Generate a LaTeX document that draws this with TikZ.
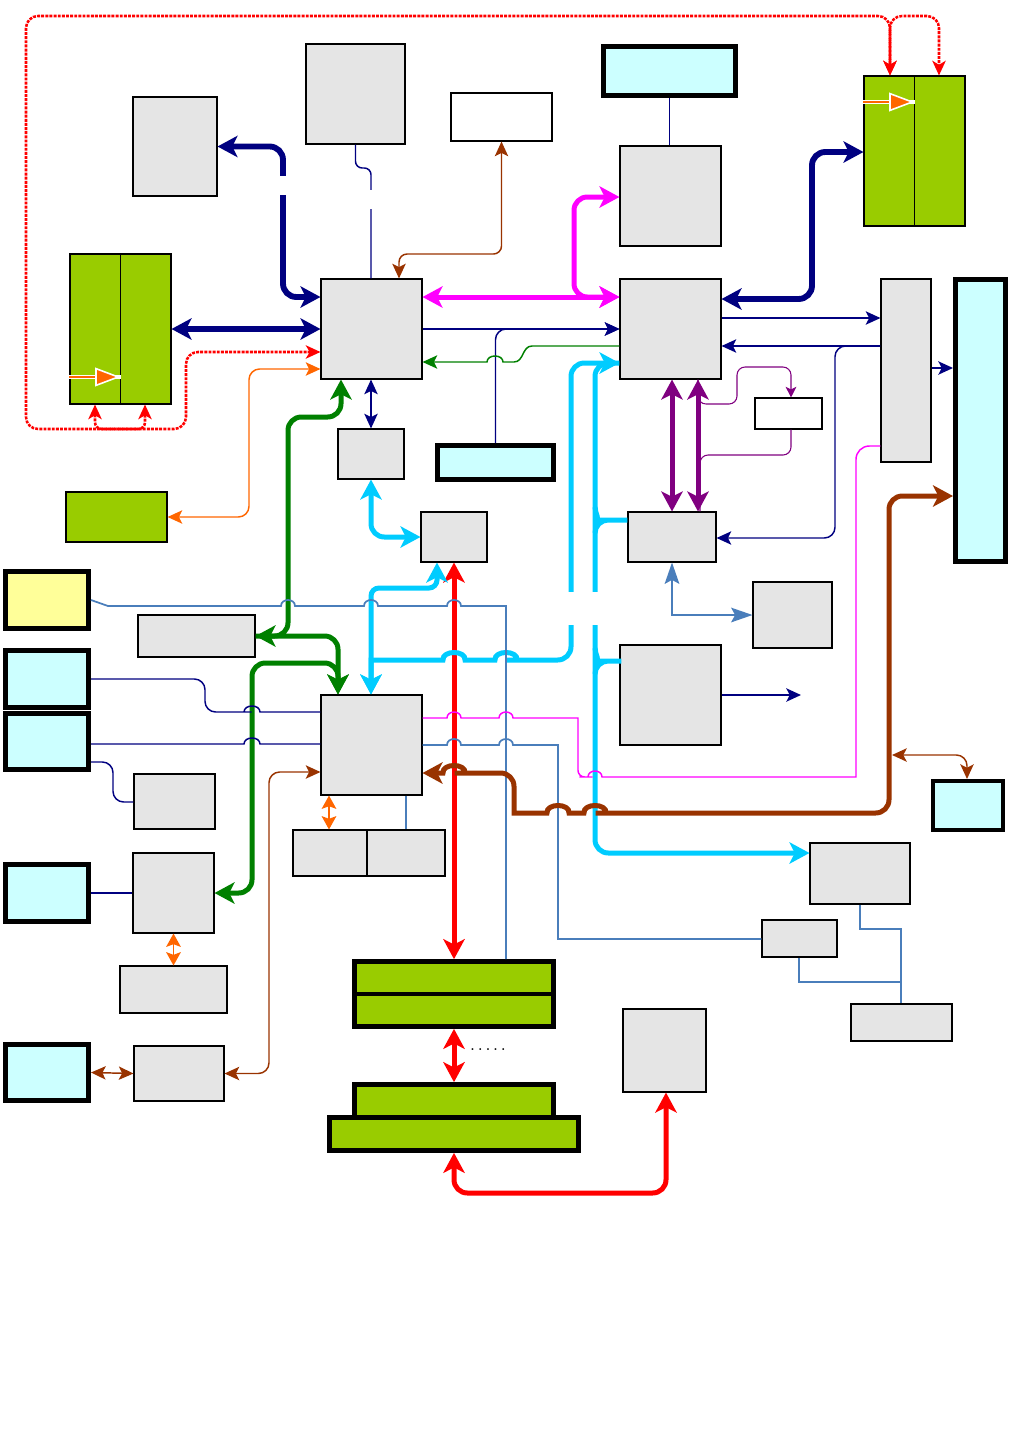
\documentclass[tikz,border=0pt]{standalone}
\usetikzlibrary{arrows.meta, fit, calc}

\definecolor{navyblue}{HTML}{000080}
\definecolor{darkgrn}{HTML}{008000}
\definecolor{magc}{HTML}{FF00FF}
\definecolor{skyc}{HTML}{00CCFF}
\definecolor{purpc}{HTML}{800080}
\definecolor{brownc}{HTML}{993300}
\definecolor{steelc}{HTML}{4A7EBB}
\definecolor{orangec}{HTML}{FF6600}
\definecolor{boxgray}{HTML}{E5E5E5}
\definecolor{portcyan}{HTML}{CCFFFF}
\definecolor{memgreen}{HTML}{99CC00}
\definecolor{paleyel}{HTML}{FFFF99}

\begin{document}
\begin{tikzpicture}[
    x=0.75pt, y=-0.75pt,
    unit/.style={rectangle, draw=black, fill=boxgray, line width=0.8pt, inner sep=0pt},
    blank/.style={unit, fill=white},
    memory/.style={unit, fill=memgreen},
    slot/.style={memory, line width=3.5pt},
    port/.style={rectangle, draw=black, fill=portcyan, line width=3.75pt, inner sep=0pt},
    bus/.style={line width=3.75pt, rounded corners=10pt, >={Stealth[length=15pt,width=16pt,inset=4pt]}},
    wire/.style={line width=1.1pt, rounded corners=8pt, >={Stealth[length=11pt,width=10pt,inset=2.5pt]}},
    dotbus/.style={red, line width=1.9pt, dash pattern=on 2.2pt off 0.9pt, rounded corners=9pt, >={Stealth[length=11pt,width=10pt,inset=3pt]}},
    steelwire/.style={steelc, line width=1.3pt, >={Stealth[length=16pt,width=11pt,inset=3pt]}},
    tinyhead/.style={>={Stealth[length=10pt,width=11pt,inset=2pt]}},
    hilite/.style={orangec, line width=1.3pt, preaction={draw=white, line width=3.4pt, -},
        -{Triangle[length=19pt,width=14pt,color=white,fill=orangec,line width=1.2pt]}},
    hop/.style={to path={.. controls ($(\tikztostart)+(0,-8)$) and ($(\tikztotarget)+(0,-8)$) .. (\tikztotarget)}},
    bighop/.style={to path={.. controls ($(\tikztostart)+(1,-10)$) and ($(\tikztotarget)+(-1,-10)$) .. (\tikztotarget)}},
]
    \useasboundingbox (0,0) rectangle (1010,1446);

    % blocks
    \node[unit, fit={(133,97) (217,196)}] (cacheL) {};
    \node[unit, fit={(306,44) (405,144)}] (topUnit) {};
    \node[blank, fit={(451,93) (552,141)}] (tagBox) {};
    \node[port, fit={(603.5,46.5) (735.5,95.5)}] (topPort) {};
    \node[unit, fit={(620,146) (721,246)}] (agp) {};
    \node[memory, fit={(864,76) (965,226)}] (dimmR) {};
    \node[memory, fit={(70,254) (171,404)}] (dimmL) {};
    \node[unit, fit={(321,279) (422,379)}] (hubN) {};
    \node[unit, fit={(620,279) (721,379)}] (hubE) {};
    \node[unit, fit={(881,279) (931,462)}] (tallUnit) {};
    \node[port, fit={(955.5,279.5) (1005.5,561.5)}] (sidePort) {};
    \node[blank, fit={(755,398) (822,429)}] (smallBox) {};
    \node[unit, fit={(338,429) (404,479)}] (ioA) {};
    \node[port, fit={(437.5,445.5) (553.5,479.5)}] (midPort) {};
    \node[memory, fit={(66,492) (167,542)}] (flash) {};
    \node[unit, fit={(421,512) (487,562)}] (ioB) {};
    \node[unit, fit={(628,512) (716,562)}] (ioC) {};
    \node[unit, fit={(753,582) (832,648)}] (ioD) {};
    \node[port, fill=paleyel, fit={(5.5,571.5) (88.5,628.5)}] (yellowPort) {};
    \node[unit, fit={(138,615) (255,657)}] (ioE) {};
    \node[port, fit={(5.5,650.5) (88.5,707.5)}] (portA) {};
    \node[port, fit={(5.5,713.5) (88.5,769.5)}] (portB) {};
    \node[unit, fit={(620,645) (721,745)}] (ioF) {};
    \node[unit, fit={(321,695) (422,795)}] (hubS) {};
    \node[unit, fit={(134,774) (215,829)}] (ioG) {};
    \node[port, line width=3pt, fit={(933,781) (1003,830)}] (portR) {};
    \node[unit, fit={(293,830) (367,876)}] (pairL) {};
    \node[unit, fit={(367,830) (445,876)}] (pairR) {};
    \node[unit, fit={(810,843) (910,904)}] (ioH) {};
    \node[port, fit={(5.5,864.5) (88.5,921.5)}] (portC) {};
    \node[unit, fit={(133,853) (214,933)}] (ioI) {};
    \node[unit, fit={(120,966) (227,1013)}] (ioJ) {};
    \node[unit, fit={(762,920) (837,957)}] (ioK) {};
    \node[unit, fit={(851,1004) (952,1041)}] (ioL) {};
    \node[slot, fit={(354.5,961.5) (553.5,994)}] (slotA1) {};
    \node[slot, fit={(354.5,994) (553.5,1026.5)}] (slotA2) {};
    \node[unit, fit={(623,1009) (706,1092)}] (ioM) {};
    \node[slot, fit={(354.5,1084.5) (553.5,1117.5)}] (slotB1) {};
    \node[slot, fit={(329.5,1117.5) (578.5,1150.5)}] (slotB2) {};
    \node[port, fit={(5.5,1044.5) (88.5,1100.5)}] (portD) {};
    \node[unit, fit={(134,1046) (224,1101)}] (ioN) {};
    \node[inner sep=0pt] (dots) at (488,1050) {\small\bfseries .\hspace{2.8pt}.\hspace{2.8pt}.\hspace{2.8pt}.\hspace{2.8pt}.};

    \draw[line width=0.8pt] (dimmL.north) -- (dimmL.south);
    \draw[line width=0.8pt] (dimmR.north) -- (dimmR.south);

    % red dotted bus
    \draw[dotbus, <->] (hubN.west |- 0,352) -- (186,352) -- (186,429) -- (26,429) -- (26,16) -- (890,16) -- (dimmR.north -| 890,0);
    \draw[dotbus, rounded corners=5pt, <->] (dimmL.south -| 95,0) -- (95,429) -- (145,429) -- (dimmL.south -| 145,0);
    \draw[dotbus, <->] (dimmR.north -| 890,0) -- (890,16) -- (939,16) -- (dimmR.north -| 939,0);

    % thin wires
    \draw[wire, navyblue, rounded corners=5pt] (topUnit.south) |- (371,168) -- (hubN.north -| 371,0);
    \draw[wire, navyblue, <->] (hubN.south -| 371,0) -- (ioA.north);
    \draw[wire, navyblue, ->] (hubN.east |- 0,329) -- (hubE.west |- 0,329);
    \draw[wire, navyblue, ->] (midPort.north) |- (hubE.west |- 0,329);
    \draw[wire, navyblue, ->] (hubE.east |- 0,318) -- (tallUnit.west |- 0,318);
    \draw[wire, navyblue, ->] (tallUnit.west |- 0,346) -- (hubE.east |- 0,346);
    \draw[wire, navyblue, ->] (tallUnit.west |- 0,346) -- (835,346) -- (835,538) -- (ioC.east |- 0,538);
    \draw[wire, navyblue, ->] (tallUnit.east |- 0,368) -- (sidePort.west |- 0,368);
    \draw[wire, navyblue] (topPort.south) -- (topPort.south |- agp.north);
    \draw[wire, navyblue] (portC.east) -- (ioI.west);
    \coordinate (navyEnd) at (801,695);
    \draw[wire, navyblue, ->] (ioF.east) -- (navyEnd);
    \draw[wire, orangec, <->] (hubN.west |- 0,369) -| (249,517) -- (flash.east);
    \draw[wire, orangec, tinyhead, <->] (hubS.south -| 329,0) -- (pairL.north -| 329,0);
    \draw[wire, orangec, tinyhead, <->] (ioI.south) -- (ioJ.north);
    \draw[wire, brownc, rounded corners=6pt, <->] (tagBox.south) |- (399,254) -- (hubN.north -| 399,0);
    \draw[wire, brownc, <->] (portD.east) -- (ioN.west);
    \draw[wire, brownc, <->] (ioN.east) -| (269,772) -- (hubS.west |- 0,772);
    \draw[wire, purpc, line width=0.8pt, rounded corners=6pt, >={Stealth[length=8pt,width=8pt,inset=2pt]}, ->]
        (hubE.south -| 698,0) -- (698,404) -- (737,404) -- (737,367) -- (791,367) -- (smallBox.north -| 791,0);
    \draw[wire, purpc, line width=0.8pt, rounded corners=6pt] (smallBox.south -| 791,0) -- (791,455) -- (700,455) -- (ioC.north -| 700,0);

    % steel wires
    \draw[steelwire, <->] (ioC.south -| 672,0) |- (ioD.west);
    \draw[steelwire] (hubS.south -| 406,0) -- (pairR.north -| 406,0);
    \draw[steelwire] (ioH.south) |- (901,929) -- (ioL.north -| 901,0);
    \draw[steelwire, line width=1pt] (ioK.south -| 799,0) |- (901,982) -- (ioL.north -| 901,0);

    % thick buses
    \draw[bus, navyblue, line width=4.4pt, <->] (cacheL.east) -| (283,297) -- (hubN.west |- 0,297);
    \draw[bus, navyblue, line width=4.4pt, <->] (dimmL.east) -- (hubN.west |- dimmL.east);
    \draw[bus, navyblue, line width=4.4pt, <->] (hubE.east |- 0,299) -- (812,299) -- (812,152) -- (dimmR.west |- 0,152);
    \draw[bus, magc, <->] (hubN.east |- 0,297) -- (hubE.west |- 0,297);
    \draw[bus, magc, <->] (hubE.west |- 0,297) -- (574,297) -- (574,197) -- (agp.west |- 0,197);
    \draw[bus, purpc, <->] (hubE.south -| 672,0) -- (ioC.north -| 672,0);
    \draw[bus, purpc, <->] (hubE.south -| 698,0) -- (ioC.north -| 698,0);
    \draw[bus, darkgrn, <->] (hubN.south -| 341,0) -- (341,417) -- (288,417) -- (288,636) -- (ioE.east |- 0,636);
    \draw[bus, darkgrn, ->] (ioE.east |- 0,636) -- (338,636) -- (hubS.north -| 338,0);
    \draw[bus, darkgrn, <->] (hubS.north -| 338,0) -- (338,663) -- (252,663) -- (252,893) -- (ioI.east |- 0,893);
    \draw[bus, red, <->] (ioB.south) -- (slotA1.north);
    \draw[bus, red, <->] (slotA2.south) -- (slotB1.north);
    \draw[bus, red, <->] (slotB2.south) -- (454,1193) -- (666,1193) -- (ioM.south -| 666,0);
    \draw[bus, skyc, <->] (ioA.south) |- (ioB.west);
    \draw[bus, skyc, <->] (hubE.west |- 0,363) -- (571,363) -- (571,660) -- (520,660) [sharp corners] -- (517,660) to[bighop] (495,660)
        -- (465,660) to[bighop] (443,660) -- (371,660) [rounded corners=10pt] -- (hubS.north -| 371,0);
    \draw[bus, skyc, rounded corners=6pt, <->] (hubS.north -| 371,0) -- (371,588) -- (437,588) -- (ioB.south -| 437,0);
    \draw[bus, skyc, ->] (hubE.west |- 0,363) -- (595,363) -- (595,853) -- (ioH.west |- 0,853);
    \draw[bus, skyc] (ioC.west |- 0,520) -- (608,520) .. controls (601,520) and (595,514) .. (595,507)
        (608,520) .. controls (601,520) and (595,526) .. (595,533);
    \draw[bus, skyc] (ioF.west |- 0,661) -- (608,661) .. controls (601,661) and (595,655) .. (595,648)
        (608,661) .. controls (601,661) and (595,667) .. (595,674);
    \fill[white] (276,176) rectangle (290,195);
    \fill[white] (366,190) rectangle (376,209);
    \fill[white] (562,592) rectangle (604,625);

    % crossing wires
    \draw[wire, darkgrn, sharp corners, ->] (hubE.west |- 0,346) -- (532,346) .. controls (522,346) and (524,362) .. (514,362)
        -- (503,362) to[hop] (487,362) -- (hubN.east |- 0,362);
    \draw[steelwire] (yellowPort.east) -- (108,606) -- (281,606) to[hop] (295,606) -- (364,606) to[hop] (378,606)
        -- (447,606) to[hop] (461,606) -- (506,606) -- (slotA1.north -| 506,0);
    \draw[wire, navyblue] (portA.east) -- (205,679) -- (205,712) -- (241,712) [sharp corners] -- (244,712) to[hop] (260,712)
        -- (hubS.west |- 0,712);
    \draw[wire, navyblue, sharp corners] (portB.east |- 0,744) -- (244,744) to[hop] (260,744) -- (hubS.west |- 0,744);
    \draw[wire, navyblue] (portB.east |- 0,762) -| (113,802) -- (ioG.west |- 0,802);
    \draw[wire, magc] (hubS.east |- 0,718) [sharp corners] -- (447,718) to[hop] (461,718) -- (499,718) to[hop] (513,718)
        -- (578,718) [rounded corners=5pt] -- (578,777) -- (586,777) [sharp corners] -- (588,777) to[hop] (602,777)
        -- (856,777) [rounded corners=10pt] -- (856,446) -- (tallUnit.west |- 0,446);
    \draw[steelwire] (hubS.east |- 0,745) -- (447,745) to[hop] (461,745) -- (499,745) to[hop] (513,745)
        -- (558,745) -- (558,939) -- (ioK.west |- 0,939);
    \draw[bus, brownc, <->] (sidePort.west |- 0,496) -- (889,496) -- (889,813) -- (609,813) [sharp corners] -- (606,813)
        to[bighop] (584,813) -- (569,813) to[bighop] (547,813) -- (514,813) [rounded corners=10pt] -- (514,773) -- (468,773)
        [sharp corners] -- (465,773) to[bighop] (443,773) -- (hubS.east |- 0,773);
    \coordinate (brnTap) at (892,755);
    \draw[wire, brownc, <->] (brnTap) -- (967,755) -- (portR.north -| 967,0);

    % moving-part arrows
    \draw[hilite] (dimmL.west |- 0,377) -- (dimmL.center |- 0,377);
    \draw[hilite] (dimmR.west |- 0,102) -- (dimmR.center |- 0,102);

\end{tikzpicture}
\end{document}
